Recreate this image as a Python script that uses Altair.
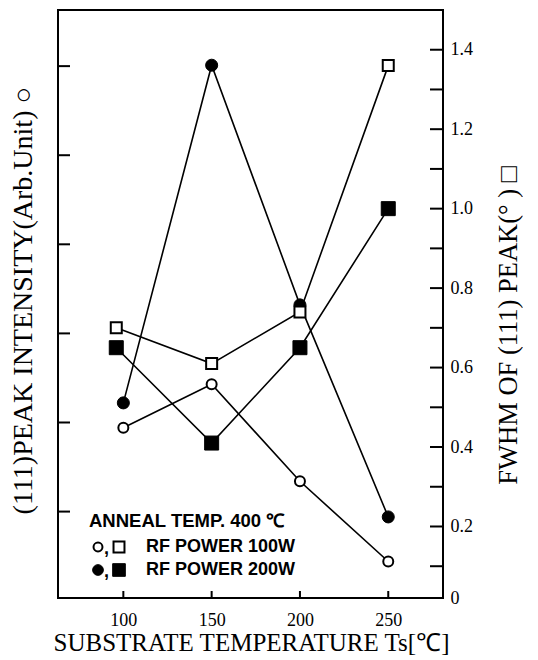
import altair as alt
import pandas as pd

# ---------------- data ----------------
temps = [100, 150, 200, 250]
sq_temps = [96, 150, 200, 250]
intensity_100w = [1.94, 2.43, 1.34, 0.44]
intensity_200w = [2.22, 6.01, 3.32, 0.94]
fwhm_100w = [0.70, 0.61, 0.74, 1.36]
fwhm_200w = [0.65, 0.41, 0.65, 1.00]

x_tick_values = [100, 150, 200, 250]
left_tick_values = [1, 2, 3, 4, 5, 6]
right_tick_values = [0.1, 0.2, 0.3, 0.4, 0.5, 0.6, 0.7, 0.8, 0.9, 1.0, 1.1, 1.2, 1.3, 1.4]
right_label_values = [0.02, 0.2, 0.4, 0.6, 0.8, 1.0, 1.2, 1.4]

x_title = "SUBSTRATE TEMPERATURE Ts[℃]"
left_title = "(111)PEAK INTENSITY(Arb.Unit) ○"
right_title = "FWHM OF (111) PEAK(° ) □"
legend_head = "ANNEAL TEMP. 400 ℃"
legend_labels = ["RF POWER 100W", "RF POWER 200W"]

# ---------------- layout ----------------
W, H = 385, 588
SERIF = "Liberation Serif"
SANS = "Liberation Sans"

xs = alt.Scale(domain=[63, 281], nice=False, zero=False)
ys_int = alt.Scale(domain=[0.03, 6.63], nice=False, zero=False)
ys_fw = alt.Scale(domain=[0.02, 1.5], nice=False, zero=False)

int_df = pd.DataFrame({
    "t": temps + temps,
    "v": intensity_100w + intensity_200w,
    "s": ["100W"] * 4 + ["200W"] * 4,
})
fw_df = pd.DataFrame({
    "t": sq_temps + sq_temps,
    "v": fwhm_100w + fwhm_200w,
    "s": ["100W"] * 4 + ["200W"] * 4,
})

x_axis = alt.Axis(
    orient="bottom", values=x_tick_values, ticks=False, tickSize=0,
    domain=False, grid=False,
    labelFont=SERIF, labelFontSize=18, labelColor="black", labelPadding=22,
    labelBaseline="middle", labelFlush=False, labelOverlap=False,
    title=x_title, titleFont=SERIF, titleFontSize=25, titleFontWeight="normal",
    titleColor="black", titleX=193, titleY=44, titleAlign="center",
    titleBaseline="middle",
)
left_axis = alt.Axis(
    orient="left", labels=False, ticks=False, tickSize=0, domain=False, grid=False,
    title=left_title, titleFont=SERIF, titleFontSize=28, titleFontWeight="normal",
    titleColor="black", titleX=-35, titleY=290, titleAngle=270,
    titleAlign="center", titleBaseline="middle",
)
right_axis = alt.Axis(
    orient="right", values=right_label_values,
    labelExpr="datum.value < 0.1 ? '0' : format(datum.value, '.1f')",
    ticks=False, tickSize=0, domain=False, grid=False,
    labelFont=SERIF, labelFontSize=18, labelColor="black", labelPadding=7,
    labelAlign="left", labelBaseline="middle", labelFlush=False, labelOverlap=False,
    title=right_title, titleFont=SERIF, titleFontSize=26.5, titleFontWeight="normal",
    titleColor="black", titleX=65, titleY=315, titleAngle=270,
    titleAlign="center", titleBaseline="middle",
)

# every layer that uses the shared x scale carries the same axis definition
X = lambda: alt.X("t:Q", scale=xs, axis=x_axis)

# lines
lines_i = alt.Chart(int_df).mark_line(color="black", strokeWidth=1.6).encode(
    x=X(), y=alt.Y("v:Q", scale=ys_int, axis=left_axis), detail="s:N")
lines_f = alt.Chart(fw_df).mark_line(color="black", strokeWidth=1.6).encode(
    x=X(), y=alt.Y("v:Q", scale=ys_fw, axis=right_axis), detail="s:N")

# inward tick marks
left_ticks = alt.Chart(pd.DataFrame({"v": left_tick_values})).mark_rule(
    color="black", strokeWidth=2).encode(
    y=alt.Y("v:Q", scale=ys_int, axis=None), x=alt.value(0), x2=alt.value(12))
right_ticks = alt.Chart(pd.DataFrame({"v": right_tick_values})).mark_rule(
    color="black", strokeWidth=2).encode(
    y=alt.Y("v:Q", scale=ys_fw, axis=None), x=alt.value(W - 13), x2=alt.value(W))
x_ticks = alt.Chart(pd.DataFrame({"t": x_tick_values})).mark_rule(
    color="black", strokeWidth=2).encode(
    x=X(), y=alt.value(H - 7), y2=alt.value(H))

# markers
open_c = alt.Chart(int_df).transform_filter("datum.s == '100W'").mark_point(
    shape="circle", size=100, filled=True, fill="white", stroke="black",
    strokeWidth=2, opacity=1).encode(x=X(), y=alt.Y("v:Q", scale=ys_int, axis=None))
filled_c = alt.Chart(int_df).transform_filter("datum.s == '200W'").mark_point(
    shape="circle", size=145, filled=True, fill="black", stroke="black",
    strokeWidth=1, opacity=1).encode(x=X(), y=alt.Y("v:Q", scale=ys_int, axis=None))
open_s = alt.Chart(fw_df).transform_filter("datum.s == '100W'").mark_point(
    shape="square", size=121, filled=True, fill="white", stroke="black",
    strokeWidth=2, opacity=1).encode(x=X(), y=alt.Y("v:Q", scale=ys_fw, axis=None))
filled_s = alt.Chart(fw_df).transform_filter("datum.s == '200W'").mark_point(
    shape="square", size=196, filled=True, fill="black", stroke="black",
    strokeWidth=1, opacity=1).encode(x=X(), y=alt.Y("v:Q", scale=ys_fw, axis=None))

# in-plot legend
def txt(s, x, y, size=18):
    return alt.Chart(pd.DataFrame({"s": [s]})).mark_text(
        font=SANS, fontSize=size, fontWeight="bold", color="black",
        align="left", baseline="middle").encode(
        text="s:N", x=alt.value(x), y=alt.value(y))

def glyph(shape, filled, x, y, size):
    return alt.Chart(pd.DataFrame({"k": [0]})).mark_point(
        shape=shape, size=size, filled=True,
        fill="black" if filled else "white", stroke="black",
        strokeWidth=2 if not filled else 1, opacity=1).encode(
        x=alt.value(x), y=alt.value(y))

legend = [
    txt(legend_head, 31, 511, 18.5),
    glyph("circle", False, 40, 537, 80),
    txt(",", 46, 539),
    glyph("square", False, 61, 537, 120),
    txt(legend_labels[0], 88, 537),
    glyph("circle", True, 40, 560, 115),
    txt(",", 46, 562),
    glyph("square", True, 61, 560, 160),
    txt(legend_labels[1], 88, 560),
]

chart = alt.layer(
    lines_i, lines_f, left_ticks, right_ticks, x_ticks,
    open_c, filled_c, open_s, filled_s, *legend
).resolve_scale(y="independent").properties(
    width=W, height=H,
    autosize=alt.AutoSizeParams(type="none"),
    padding={"left": 50, "top": 2, "right": 80, "bottom": 60},
    background="white",
).configure_view(stroke="black", strokeWidth=2)

chart.save("out.html", embed_options={"renderer": "svg", "actions": False})
